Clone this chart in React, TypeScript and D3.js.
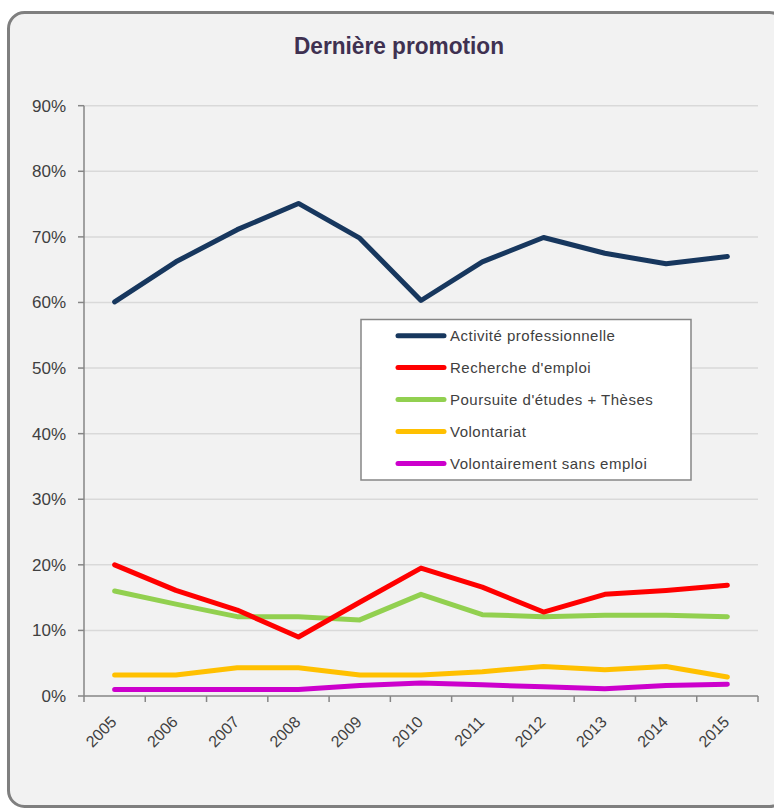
import React from "react";
import * as d3 from "d3";

const years = ["2005","2006","2007","2008","2009","2010","2011","2012","2013","2014","2015"];
const activite = [60.1, 66.2, 71.1, 75.1, 69.8, 60.3, 66.2, 69.9, 67.5, 65.9, 67.0];
const recherche = [20.0, 16.1, 13.1, 9.0, 14.3, 19.5, 16.6, 12.8, 15.5, 16.1, 16.9];
const poursuite = [16.0, 14.0, 12.1, 12.1, 11.6, 15.5, 12.4, 12.1, 12.3, 12.3, 12.1];
const volontariat = [3.2, 3.2, 4.3, 4.3, 3.2, 3.2, 3.7, 4.5, 4.0, 4.5, 2.9];
const sansEmploi = [1.0, 1.0, 1.0, 1.0, 1.6, 2.0, 1.7, 1.4, 1.1, 1.6, 1.8];
const yTicks = [0, 10, 20, 30, 40, 50, 60, 70, 80, 90];

const seriesNames = [
  "Activité professionnelle",
  "Recherche d'emploi",
  "Poursuite d'études + Thèses",
  "Volontariat",
  "Volontairement sans emploi",
];
const seriesValues = [activite, recherche, poursuite, volontariat, sansEmploi];
const seriesColors = ["#17375e", "#ff0000", "#92d050", "#ffc000", "#cc00cc"];

export default function App() {
  const W = 774, H = 809;
  const left = 84, right = 758, top = 105.7, bottom = 696;
  const x = d3.scaleBand<string>().domain(years).range([left, right]).paddingInner(0).paddingOuter(0);
  const y = d3.scaleLinear().domain([0, 90]).range([bottom, top]);
  const line = d3.line<number>()
    .x((_, i) => (x(years[i]) as number) + x.bandwidth() / 2)
    .y((v) => y(v));
  const textColor = "#404040";
  const font = "'Liberation Sans', Arial, sans-serif";
  const boundaries = years.map((yr) => x(yr) as number).concat([right]);

  const lg = { x: 361, y: 319.5, w: 330, h: 160.5 };
  const rowY = [335.7, 367.5, 399.5, 431.5, 463.5];

  return (
    <svg width={W} height={H} style={{ position: "fixed", left: 0, top: 0 }} xmlns="http://www.w3.org/2000/svg">
      <rect x={0} y={0} width={W} height={H} fill="#ffffff" />
      <rect x={8.5} y={12.5} width={777} height={794} rx={16} ry={16} fill="#f2f2f2" stroke="#7f7f7f" strokeWidth={3} />
      <text x={399} y={53.5} textAnchor="middle" fontFamily="'Liberation Sans Narrow', 'Arial Narrow', 'Liberation Sans', sans-serif"
        fontWeight="bold" fontSize={23} fill="#3f3151" textLength={210} lengthAdjust="spacingAndGlyphs">Dernière promotion</text>

      {/* gridlines */}
      {yTicks.filter((t) => t > 0).map((t) => (
        <line key={"g" + t} x1={left} x2={right} y1={y(t)} y2={y(t)} stroke="#d9d9d9" strokeWidth={1.5} />
      ))}
      {/* y axis */}
      <line x1={left} x2={left} y1={top} y2={bottom} stroke="#868686" strokeWidth={1.5} />
      {yTicks.map((t) => (
        <g key={"y" + t}>
          <line x1={left - 6} x2={left} y1={y(t)} y2={y(t)} stroke="#868686" strokeWidth={1.5} />
          <text x={66} y={y(t) + 6} textAnchor="end" fontFamily={font} fontSize={17} fill={textColor}>{t}%</text>
        </g>
      ))}
      {/* x axis */}
      <line x1={left} x2={right} y1={bottom} y2={bottom} stroke="#868686" strokeWidth={1.5} />
      {boundaries.map((b, i) => (
        <line key={"xt" + i} x1={b} x2={b} y1={bottom} y2={bottom + 6} stroke="#868686" strokeWidth={1.5} />
      ))}
      {years.map((yr) => {
        const cx = (x(yr) as number) + x.bandwidth() / 2;
        return (
          <text key={"xl" + yr} transform={`translate(${cx + 3},${bottom + 27}) rotate(-45)`} textAnchor="end"
            fontFamily={font} fontSize={16} fill={textColor}>{yr}</text>
        );
      })}

      {/* lines */}
      {seriesValues.map((vals, i) => (
        <path key={"s" + i} d={line(vals) as string} fill="none" stroke={seriesColors[i]} strokeWidth={5}
          strokeLinejoin="round" strokeLinecap="round" />
      )).reverse()}

      {/* legend */}
      <rect x={lg.x} y={lg.y} width={lg.w} height={lg.h} fill="#ffffff" stroke="#868686" strokeWidth={1.5} />
      {seriesNames.map((n, i) => (
        <g key={"l" + i}>
          <line x1={398} x2={444} y1={rowY[i]} y2={rowY[i]} stroke={seriesColors[i]} strokeWidth={5} strokeLinecap="round" />
          <text x={450} y={rowY[i] + 5.5} fontFamily={font} fontSize={15} letterSpacing={0.5} fill={textColor}>{n}</text>
        </g>
      ))}
    </svg>
  );
}
